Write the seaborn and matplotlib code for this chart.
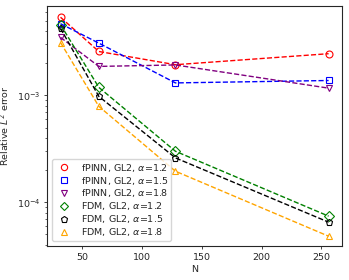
import pandas as pd
import matplotlib
matplotlib.use("Agg")
import matplotlib.pyplot as plt
from matplotlib.lines import Line2D
import seaborn as sns

# grid sizes
N = [32, 64, 128, 256]

# relative L2 errors
fpinn_12 = [5.4e-3, 2.58e-3, 1.94e-3, 2.46e-3]
fpinn_15 = [4.7e-3, 3.09e-3, 1.31e-3, 1.38e-3]
fpinn_18 = [3.5e-3, 1.87e-3, 1.93e-3, 1.17e-3]
fdm_12 = [4.6e-3, 1.19e-3, 3.0e-4, 7.4e-5]
fdm_15 = [4.25e-3, 9.8e-4, 2.6e-4, 6.5e-5]
fdm_18 = [3.13e-3, 7.9e-4, 1.95e-4, 4.8e-5]

labels = [
    r"fPINN, GL2, $\alpha$=1.2",
    r"fPINN, GL2, $\alpha$=1.5",
    r"fPINN, GL2, $\alpha$=1.8",
    r"FDM, GL2, $\alpha$=1.2",
    r"FDM, GL2, $\alpha$=1.5",
    r"FDM, GL2, $\alpha$=1.8",
]
series = [fpinn_12, fpinn_15, fpinn_18, fdm_12, fdm_15, fdm_18]
colors = ["red", "blue", "purple", "green", "black", "orange"]
markers = ["o", "s", "v", "D", "p", "^"]

sns.set_style("ticks")
plt.rcParams["font.family"] = ["DejaVu Sans"]
plt.rcParams["font.size"] = 6.8

fig = plt.figure(figsize=(3.49, 2.8), dpi=100)
ax = fig.add_axes([0.135, 0.122, 0.845, 0.857])

handles = []
for vals, lab, c, m in zip(series, labels, colors, markers):
    df = pd.DataFrame({"N": N, "err": vals})
    sns.lineplot(data=df, x="N", y="err", ax=ax, color=c, linestyle="--",
                 linewidth=1.0, marker=m, markersize=5, markerfacecolor="none",
                 markeredgecolor=c, markeredgewidth=0.8, legend=False)
    handles.append(Line2D([], [], color=c, marker=m, linestyle="none",
                          markersize=4.5, markerfacecolor="none",
                          markeredgecolor=c, markeredgewidth=0.8, label=lab))

ax.set_yscale("log")
ax.set_ylim(3.9e-5, 6.9e-3)
ax.set_xlabel("N", fontsize=6.8, labelpad=2)
ax.set_ylabel(r"Relative $L^2$ error", fontsize=6.8)
ax.tick_params(labelsize=6.8, width=0.6, length=2.5, pad=2.5)
ax.tick_params(which="minor", width=0.5, length=1.5)
for s in ax.spines.values():
    s.set_linewidth(0.8)
ax.legend(handles=handles, loc="lower left", fontsize=6.8, frameon=True,
          labelspacing=0.1, borderpad=0.3)

fig.savefig("out.png", dpi=100)
